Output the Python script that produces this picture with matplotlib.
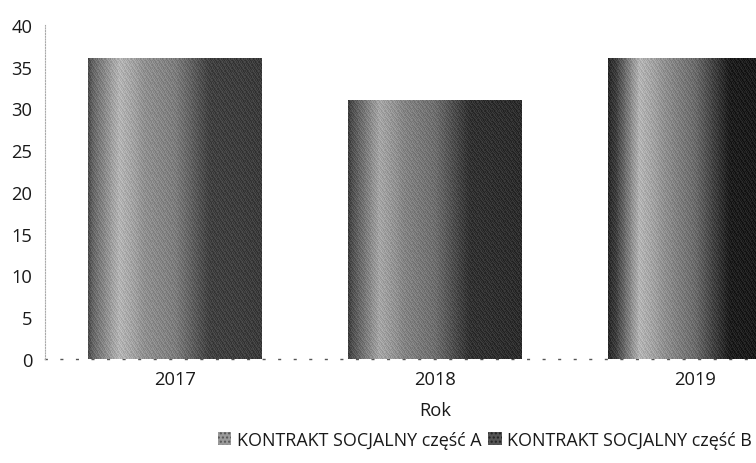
import numpy as np
import matplotlib
matplotlib.use("Agg")
import matplotlib.pyplot as plt
from matplotlib.patches import Patch

plt.rcParams['font.family'] = ['Open Sans', 'DejaVu Sans']
plt.rcParams['hatch.color'] = '#333333'

years = ["2017", "2018", "2019"]
series_a = [36, 31, 36]
series_b = [0, 0, 0]
legend_labels = ["KONTRAKT SOCJALNY część A", "KONTRAKT SOCJALNY część B"]
y_ticks = [0, 5, 10, 15, 20, 25, 30, 35, 40]
x_label = "Rok"

FS = 13.2
LFS = 12.9

fig = plt.figure(figsize=(7.56, 4.64), dpi=100)
ax = fig.add_axes([45/756, 104/464, 780/756, 334/464])

x = np.arange(len(years))
width = 0.667

# shading profiles (style) across bar width
def profile(n, peak, right, left):
    t = np.linspace(0, 1, n)
    nodes = [0.0, 0.04, 0.18, 0.26, 0.32, 0.5, 0.7, 1.0]
    vals = [left * 0.7, left, peak, peak * 0.9, peak * 0.8, (peak + right) / 2 + 5, right + 5, right]
    return np.interp(t, nodes, vals)

styles = [(180, 60, 110), (165, 45, 90), (180, 25, 60)]
bars = ax.bar(x, series_a, width=width, color='none', edgecolor='none', zorder=2)
ax.bar(x, series_b, bottom=series_a, width=width, color='none', edgecolor='none', zorder=2)
yy, xx = np.mgrid[0:200, 0:200]
texture = ((xx * 7 + yy * 13) % 5 - 2) * 7.0
for i, b in enumerate(bars):
    pk, rt, lf = styles[i]
    prof = profile(200, pk, rt, lf)
    img = np.clip(np.tile(prof, (200, 1)) + texture, 0, 255)
    ax.imshow(img, cmap='gray', vmin=0, vmax=255, aspect='auto',
              extent=[b.get_x(), b.get_x() + b.get_width(), 0, b.get_height()],
              zorder=2, interpolation='nearest')

ax.set_xlim(-0.5, 2.5)
ax.set_ylim(0, 40)
ax.set_yticks(y_ticks)
ax.set_xticks(x)
ax.set_xticklabels(years)
ax.tick_params(axis='both', length=0, labelsize=FS, labelcolor='#1a1a1a')
ax.tick_params(axis='y', pad=9)
ax.tick_params(axis='x', pad=8)
for s in ['top', 'right']:
    ax.spines[s].set_visible(False)
ax.spines['left'].set_linestyle((0, (1, 1.5)))
ax.spines['left'].set_color('#aaaaaa')
ax.spines['left'].set_linewidth(0.8)
ax.spines['bottom'].set_linestyle((0, (1.2, 10)))
ax.spines['bottom'].set_color('#555555')
ax.spines['bottom'].set_linewidth(1.0)
ax.spines['bottom'].set_zorder(1)
ax.set_xlabel(x_label, fontsize=FS, color='#1a1a1a', labelpad=9)

handles = [Patch(facecolor='#9a9a9a', edgecolor='#555555', hatch='....', linewidth=0),
           Patch(facecolor='#555555', edgecolor='#222222', hatch='....', linewidth=0)]
leg = fig.legend(handles, legend_labels, loc='center right', bbox_to_anchor=(752/756, 1 - 441/464),
                 ncol=2, frameon=False, fontsize=LFS, handlelength=0.75, handleheight=0.75,
                 handletextpad=0.3, columnspacing=0.4, borderpad=0, borderaxespad=0)
for t in leg.get_texts():
    t.set_color('#1a1a1a')

fig.savefig("out.png", dpi=100)
